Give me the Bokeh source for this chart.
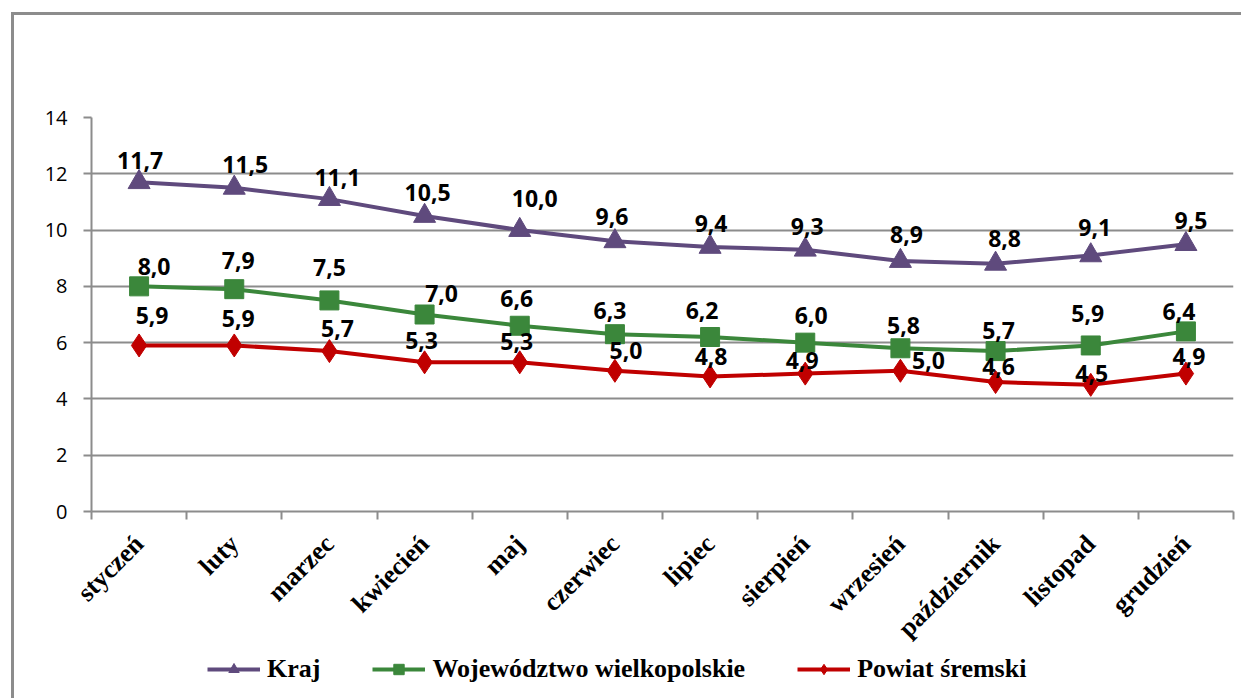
import math
from bokeh.plotting import figure
from bokeh.layouts import column
from bokeh.models import FixedTicker, Legend, LegendItem, ColumnDataSource, Range1d
from bokeh.core.properties import value
from bokeh.embed import file_html
from bokeh.resources import INLINE

# ---- data ----
months = ["styczeń", "luty", "marzec", "kwiecień", "maj", "czerwiec", "lipiec",
          "sierpień", "wrzesień", "październik", "listopad", "grudzień"]
kraj = [11.7, 11.5, 11.1, 10.5, 10.0, 9.6, 9.4, 9.3, 8.9, 8.8, 9.1, 9.5]
woj = [8.0, 7.9, 7.5, 7.0, 6.6, 6.3, 6.2, 6.0, 5.8, 5.7, 5.9, 6.4]
powiat = [5.9, 5.9, 5.7, 5.3, 5.3, 5.0, 4.8, 4.9, 5.0, 4.6, 4.5, 4.9]
y_ticks = [0, 2, 4, 6, 8, 10, 12, 14]
series_names = ["Kraj", "Województwo wielkopolskie", "Powiat śremski"]

# label placement (screen px: dx right, dy up) - style only
kraj_off = [(1, 15), (11, 16), (8, 15), (3, 17), (15, 25), (-3, 18), (1, 16), (2, 16), (6, 20), (9, 18), (4, 21), (5, 17)]
woj_off = [(15, 13), (4, 22), (0, 26), (17, 14), (-3, 20), (-5, 17), (-8, 20), (6, 20), (3, 16), (3, 14), (-3, 25), (-7, 13)]
pow_off = [(13, 23), (4, 20), (8, 16), (-3, 15), (-3, 14), (11, 13), (1, 13), (-3, 6), (28, 3), (3, 9), (1, 4), (3, 10)]
LIFT = 7

colors = ["#5f4a7d", "#3b873b", "#c00000"]
markers = ["triangle", "square", "diamond"]
msizes = [22, 19, 23]
GRAY = "#8c8c8c"

xs = list(range(len(months)))

p = figure(width=1227, height=640, output_backend="svg", toolbar_location=None,
           x_range=Range1d(-0.5, len(months) - 0.5), y_range=Range1d(0, 14),
           min_border_left=77, min_border_right=8, min_border_top=102, min_border_bottom=144)
p.outline_line_color = None
p.background_fill_color = "white"
p.border_fill_color = "white"

# axes
p.xgrid.grid_line_color = None
p.ygrid.grid_line_color = GRAY
p.ygrid.grid_line_width = 2
p.yaxis.ticker = FixedTicker(ticks=y_ticks)
p.yaxis.axis_line_color = GRAY
p.yaxis.axis_line_width = 2
p.yaxis.major_tick_line_color = GRAY
p.yaxis.major_tick_line_width = 2
p.yaxis.major_tick_out = 8
p.yaxis.major_tick_in = 0
p.yaxis.minor_tick_line_color = None
p.yaxis.major_label_text_font = "Open Sans"
p.yaxis.major_label_text_font_size = "20px"
p.yaxis.major_label_text_color = "black"
p.yaxis.major_label_standoff = 16

p.xaxis.ticker = FixedTicker(ticks=xs, minor_ticks=[i - 0.5 for i in range(len(months) + 1)])
p.xaxis.major_label_overrides = {i: m for i, m in enumerate(months)}
p.xaxis.axis_line_color = GRAY
p.xaxis.axis_line_width = 2
p.xaxis.major_tick_line_color = None
p.xaxis.major_tick_out = 0
p.xaxis.major_tick_in = 0
p.xaxis.minor_tick_line_color = GRAY
p.xaxis.minor_tick_line_width = 2
p.xaxis.minor_tick_out = 8
p.xaxis.minor_tick_in = 0
p.xaxis.major_label_orientation = math.pi / 4
p.xaxis.major_label_text_font = "Liberation Serif"
p.xaxis.major_label_text_font_style = "bold"
p.xaxis.major_label_text_font_size = "26px"
p.xaxis.major_label_text_color = "black"
p.xaxis.major_label_standoff = 20

# legend strip (a second figure directly below); its ranges keep the proxy data out of view
pl = figure(width=1227, height=43, output_backend="svg", toolbar_location=None,
            x_range=Range1d(100, 101), y_range=Range1d(100, 101),
            x_axis_location=None, y_axis_location=None,
            min_border_left=0, min_border_right=0, min_border_top=0, min_border_bottom=0)
pl.outline_line_color = None
pl.xgrid.visible = False
pl.ygrid.visible = False
pl.border_fill_color = "white"

series = [kraj, woj, powiat]
offsets = [kraj_off, woj_off, pow_off]
items = []

for name, vals, off, col, mk, ms in zip(series_names, series, offsets, colors, markers, msizes):
    src = ColumnDataSource(dict(x=xs, y=vals,
                                t=[f"{v:.1f}".replace(".", ",") for v in vals],
                                dx=[o[0] for o in off], dy=[-(o[1] + LIFT) for o in off]))
    p.line("x", "y", source=src, line_width=4, line_color=col)
    p.scatter("x", "y", source=src, marker=mk, size=ms, fill_color=col, line_color=col)
    p.text("x", "y", text="t", source=src, x_offset="dx", y_offset="dy",
           text_align="center", text_baseline="alphabetic",
           text_font=value("Open Sans"), text_font_style="bold",
           text_font_size="23px", text_color="black")
    # legend proxies (same data, outside the strip's visible range)
    lsrc = ColumnDataSource(dict(x=xs, y=vals))
    lr = pl.line("x", "y", source=lsrc, line_width=4, line_color=col)
    sr = pl.scatter("x", "y", source=lsrc, marker=mk, size=ms, fill_color=col, line_color=col)
    items.append(LegendItem(label=name, renderers=[lr, sr]))

lg = Legend(items=items, location=(116, 14), orientation="horizontal",
            padding=0, margin=0, spacing=52, border_line_color=None, background_fill_alpha=0,
            glyph_width=53, glyph_height=26, label_standoff=7, label_height=26,
            label_text_font="Liberation Serif", label_text_font_style="bold",
            label_text_font_size="26px", label_text_color="black")
pl.add_layout(lg, "center")

layout = column(p, pl, spacing=0)
layout.styles = {"border-left": "3px solid #8c8c8c", "border-top": "3px solid #8c8c8c",
                 "margin-left": "11px", "margin-top": "12px"}

open("out.html", "w").write(file_html(layout, INLINE))
